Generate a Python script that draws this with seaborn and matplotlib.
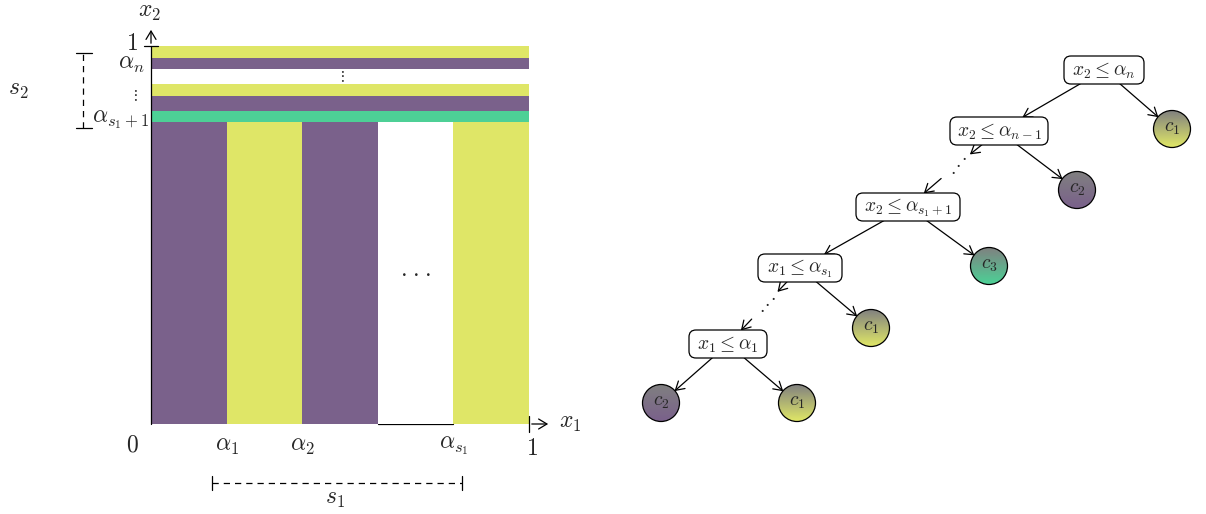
import numpy as np
import matplotlib
matplotlib.use("Agg")
import matplotlib.pyplot as plt
import seaborn as sns
from matplotlib.patches import FancyBboxPatch, Circle, FancyArrowPatch
from matplotlib.colors import LinearSegmentedColormap

# ---------------- data ----------------
class_colors = {"c1": "#dfe667", "c2": "#7a618b", "c3": "#4dd096", "": "#ffffff"}

# vertical partition of x1 (below alpha_{s1+1})
col_left = [0.0, 0.2, 0.4, 0.6, 0.8]
col_width = [0.2, 0.2, 0.2, 0.2, 0.2]
col_class = ["c2", "c1", "c2", "", "c1"]
col_top = 0.8

# horizontal partition of x2 (above alpha_{s1+1})
row_bottom = [0.800, 0.829, 0.868, 0.899, 0.939, 0.968]
row_top = [0.829, 0.868, 0.899, 0.939, 0.968, 1.000]
row_class = ["c3", "c2", "c1", "", "c2", "c1"]

x_tick_pos = [0.2, 0.4, 0.8]
x_tick_labels = [r"$\alpha_1$", r"$\alpha_2$", r"$\alpha_{s_1}$"]

# decision tree
node_labels = [r"$x_2 \leq \alpha_n$", r"$x_2 \leq \alpha_{n-1}$", r"$x_2 \leq \alpha_{s_1+1}$",
               r"$x_1 \leq \alpha_{s_1}$", r"$x_1 \leq \alpha_1$"]
leaf_classes = ["c1", "c2", "c3", "c1", "c2", "c1"]
# edges: (parent, child); "N#" split nodes, "L#" leaves, "D#" ellipsis
edges = [("N0", "N1"), ("N0", "L0"), ("N1", "D0"), ("D0", "N2"), ("N1", "L1"),
         ("N2", "N3"), ("N2", "L2"), ("N3", "D1"), ("D1", "N4"), ("N3", "L3"),
         ("N4", "L4"), ("N4", "L5")]

# ---------------- layout (pixels) ----------------
node_xy = [(1104, 70), (999, 131), (908, 207), (800, 268), (728, 344)]
node_w = [80, 98, 104, 84, 78]
node_h = 28
leaf_xy = [(1172, 129), (1077, 190), (989, 266), (871, 328), (661, 403), (797, 403)]
leaf_r = 18.5
dots_xy = [(958, 164), (767, 303)]

sns.set_theme(style="white")
plt.rcParams["font.family"] = ["DejaVu Serif"]
plt.rcParams["mathtext.fontset"] = "cm"

W, H = 1206, 514
fig = plt.figure(figsize=(W / 100, H / 100), dpi=100)
fig.patch.set_facecolor("white")

# ---------------- left panel ----------------
ax = fig.add_axes([151 / W, (H - 424) / H, 378 / W, 378 / H])
ax.set_xlim(0, 1)
ax.set_ylim(0, 1)
ax.set_axis_off()

lw = 0.9
ax.plot([0.6, 0.8], [0, 0], color="black", lw=lw, zorder=1, clip_on=False)
ax.bar(col_left, [col_top] * len(col_left), width=col_width, align="edge",
       color=[class_colors[c] for c in col_class], linewidth=0, zorder=2)
ax.barh(row_bottom, [1.0] * len(row_bottom),
        height=[t - b for b, t in zip(row_bottom, row_top)], left=0, align="edge",
        color=[class_colors[c] for c in row_class], linewidth=0, zorder=2)
ax.plot([0, 0], [0, 1], color="black", lw=lw, zorder=3, clip_on=False)

arrow_kw = dict(arrowstyle="->,head_length=0.3,head_width=0.18", lw=lw, color="black",
                mutation_scale=20)
# x1 axis arrow with bar
ax.annotate("", xy=(1.058, 0), xytext=(1.0, 0), arrowprops=arrow_kw, annotation_clip=False)
ax.plot([1, 1], [-0.02, 0.02], color="black", lw=lw, clip_on=False)
# x2 axis arrow with bar
ax.annotate("", xy=(0, 1.05), xytext=(0, 1.0), arrowprops=arrow_kw, annotation_clip=False)
ax.plot([-0.018, 0.018], [1, 1], color="black", lw=lw, clip_on=False)

fs = 17
ax.text(1.11, 0.004, r"$x_1$", fontsize=fs, ha="center", va="center")
ax.text(-0.003, 1.09, r"$x_2$", fontsize=fs, ha="center", va="center")
ax.text(-0.05, -0.056, r"$0$", fontsize=fs, ha="center", va="center")
ax.text(1.008, -0.066, r"$1$", fontsize=fs, ha="center", va="center")
ax.text(-0.05, 1.006, r"$1$", fontsize=fs, ha="center", va="center")
for xp, lab in zip(x_tick_pos, x_tick_labels):
    ax.text(xp, -0.058, lab, fontsize=fs, ha="center", va="center")
ax.text(-0.052, 0.953, r"$\alpha_n$", fontsize=fs, ha="center", va="center")
ax.text(-0.045, 0.868, r"$\vdots$", fontsize=11, ha="center", va="center")
ax.text(-0.08, 0.805, r"$\alpha_{s_1+1}$", fontsize=fs, ha="center", va="center")
ax.text(0.505, 0.92, r"$\vdots$", fontsize=11, ha="center", va="center")
for k in (-1, 0, 1):
    ax.text(0.70 + 0.032 * k, 0.40, r"$\cdot$", fontsize=fs, ha="center", va="center")

dash = (0, (5, 4))
# s2 bracket
ax.plot([-0.18, -0.18], [0.783, 0.981], color="black", lw=lw, ls=dash, clip_on=False)
ax.plot([-0.198, -0.156], [0.981, 0.981], color="black", lw=lw, clip_on=False)
ax.plot([-0.198, -0.156], [0.783, 0.783], color="black", lw=lw, clip_on=False)
ax.text(-0.352, 0.884, r"$s_2$", fontsize=fs, ha="center", va="center")
# s1 bracket
ax.plot([0.161, 0.823], [-0.156, -0.156], color="black", lw=lw, ls=dash, clip_on=False)
ax.plot([0.161, 0.161], [-0.137, -0.175], color="black", lw=lw, clip_on=False)
ax.plot([0.823, 0.823], [-0.137, -0.175], color="black", lw=lw, clip_on=False)
ax.text(0.487, -0.196, r"$s_1$", fontsize=fs, ha="center", va="center")

# ---------------- tree ----------------
tx = fig.add_axes([0, 0, 1, 1])
tx.set_xlim(0, W)
tx.set_ylim(H, 0)
tx.set_axis_off()
tx.patch.set_alpha(0)

patches = {}
for i, ((cx, cy), w, lab) in enumerate(zip(node_xy, node_w, node_labels)):
    p = FancyBboxPatch((cx - w / 2, cy - node_h / 2), w, node_h,
                       boxstyle="round,pad=0,rounding_size=7", fc="white", ec="black",
                       lw=lw, zorder=3)
    tx.add_patch(p)
    tx.text(cx, cy + 1, lab, fontsize=14, ha="center", va="center", zorder=4)
    patches[f"N{i}"] = p

grad = np.linspace(0, 1, 64).reshape(-1, 1)
for i, ((cx, cy), cls) in enumerate(zip(leaf_xy, leaf_classes)):
    cmap = LinearSegmentedColormap.from_list(f"g{i}", ["#808080", class_colors[cls]])
    clip = Circle((cx, cy), leaf_r, transform=tx.transData, fc="none", ec="none")
    tx.add_patch(clip)
    im = tx.imshow(grad, extent=[cx - leaf_r, cx + leaf_r, cy + leaf_r, cy - leaf_r],
                   cmap=cmap, origin="upper", aspect="auto", zorder=3, interpolation="bilinear")
    im.set_clip_path(clip)
    c = Circle((cx, cy), leaf_r, fc="none", ec="black", lw=lw, zorder=4)
    tx.add_patch(c)
    tx.text(cx, cy - 1, f"$c_{cls[1]}$", fontsize=14, ha="center", va="center", zorder=5)
    patches[f"L{i}"] = c

for i, (dx, dy) in enumerate(dots_xy):
    for k in (-1, 0, 1):
        tx.text(dx + 5.5 * k, dy - 6.5 * k, r"$\cdot$", fontsize=14, ha="center", va="center")

def pos(name):
    k, j = name[0], int(name[1:])
    return {"N": node_xy, "L": leaf_xy, "D": dots_xy}[k][j]

for a, b in edges:
    kw = dict(arrowstyle="->,head_length=0.3,head_width=0.18", mutation_scale=20,
              lw=lw, color="black", zorder=2)
    if a.startswith("D"):
        kw.update(shrinkA=16, patchB=patches[b], shrinkB=0)
    elif b.startswith("D"):
        kw.update(patchA=patches[a], shrinkA=0, shrinkB=11)
    else:
        kw.update(patchA=patches[a], patchB=patches[b], shrinkA=0, shrinkB=0)
    tx.add_patch(FancyArrowPatch(pos(a), pos(b), **kw))

fig.savefig("out.png", dpi=100)
